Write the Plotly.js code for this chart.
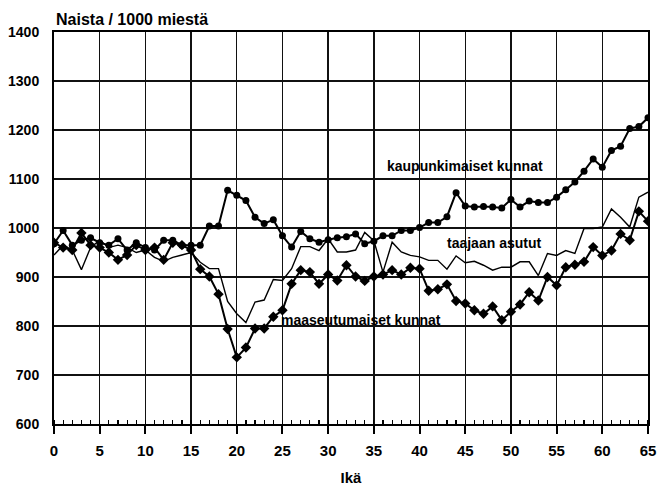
<!DOCTYPE html>
<html>
<head>
<meta charset="utf-8">
<script src="https://cdn.plot.ly/plotly-3.0.1.min.js"></script>
<style>
html,body{margin:0;padding:0;background:#fff;}
#chart{width:670px;height:493px;}
</style>
</head>
<body>
<div id="chart"></div>
<script>
const ages = [];
for (let a = 0; a <= 65; a++) ages.push(a);

const kaupunkimaiset = [968, 995, 965, 975, 980, 970, 965, 978, 955, 970,
  960, 955, 975, 975, 965, 965, 965, 1004, 1004, 1077,
  1067, 1056, 1022, 1009, 1017, 984, 961, 993, 978, 971,
  976, 980, 982, 988, 968, 973, 984, 984, 995, 995,
  1001, 1011, 1011, 1023, 1072, 1045, 1043, 1044, 1043, 1041,
  1058, 1043, 1055, 1052, 1052, 1063, 1078, 1094, 1116, 1141,
  1124, 1158, 1167, 1203, 1207, 1225];

const taajaan = [945, 965, 955, 915, 960, 975, 960, 965, 960, 950,
  955, 940, 932, 940, 945, 950, 930, 917, 917, 850,
  825, 807, 849, 853, 895, 893, 917, 962, 962, 954,
  978, 951, 951, 955, 991, 974, 910, 971, 951, 944,
  941, 934, 934, 916, 943, 929, 932, 924, 914, 920,
  920, 931, 931, 903, 948, 944, 954, 948, 999, 999,
  1002, 1039, 1022, 1002, 1063, 1073];

const maaseutumaiset = [970, 960, 955, 990, 965, 960, 950, 935, 945, 965,
  955, 960, 935, 970, 965, 955, 916, 901, 865, 794,
  736, 756, 795, 795, 819, 832, 886, 914, 910, 886,
  905, 893, 924, 901, 892, 901, 905, 914, 905, 919,
  917, 872, 875, 885, 851, 846, 832, 825, 840, 812,
  829, 844, 869, 852, 900, 883, 920, 925, 931, 961,
  944, 954, 988, 975, 1034, 1014];

const seriesLabels = ["kaupunkimaiset kunnat", "taajaan asutut", "maaseutumaiset kunnat"];
const titleText = "Naista / 1000 miestä";
const xTitle = "Ikä";

const FONT = '"Liberation Sans", Arial, sans-serif';

const traces = [
  {x: ages, y: taajaan, mode: 'lines', line: {color: '#000', width: 1.4}, name: seriesLabels[1]},
  {x: ages, y: maaseutumaiset, mode: 'lines+markers', line: {color: '#000', width: 2}, marker: {symbol: 'diamond', size: 8, color: '#000'}, name: seriesLabels[2]},
  {x: ages, y: kaupunkimaiset, mode: 'lines+markers', line: {color: '#000', width: 2}, marker: {symbol: 'circle', size: 7, color: '#000'}, name: seriesLabels[0]}
];

const layout = {
  width: 670, height: 493,
  margin: {l: 54, r: 22, t: 32, b: 69},
  paper_bgcolor: '#fff', plot_bgcolor: '#fff',
  showlegend: false,
  font: {family: FONT, size: 14, color: '#000', weight: 'bold'},
  xaxis: {
    range: [0, 65], dtick: 5, tick0: 0,
    showgrid: true, gridcolor: '#111', gridwidth: 1.3,
    showline: true, linecolor: '#000', linewidth: 2, mirror: true,
    ticks: 'outside', ticklen: 8, tickwidth: 2, tickcolor: '#000',
    minor: {dtick: 1, ticks: 'inside', ticklen: 4, tickwidth: 1.2, tickcolor: '#000', showgrid: false},
    zeroline: false, ticklabelstandoff: 4,
    tickfont: {family: FONT, size: 15, color: '#000', weight: 'bold'},
    title: {text: xTitle, font: {family: FONT, size: 15, color: '#000', weight: 'bold'}, standoff: 14}
  },
  yaxis: {
    range: [600, 1400], dtick: 100, tick0: 600,
    showgrid: true, gridcolor: '#111', gridwidth: 1.3,
    showline: true, linecolor: '#000', linewidth: 2, mirror: true,
    ticks: '', zeroline: false, ticklabelstandoff: 10,
    tickfont: {family: FONT, size: 14, color: '#000', weight: 'bold'}
  },
  annotations: [
    {xref: 'paper', yref: 'paper', x: 0, y: 1, xanchor: 'left', yanchor: 'bottom', yshift: 2, showarrow: false,
     text: titleText, font: {family: FONT, size: 16, color: '#000', weight: 'bold'}},
    {x: 45, y: 1127, showarrow: false, text: seriesLabels[0], font: {family: FONT, size: 14, color: '#000', weight: 'bold'}},
    {x: 48.2, y: 970, showarrow: false, text: seriesLabels[1], font: {family: FONT, size: 14, color: '#000', weight: 'bold'}},
    {x: 33.6, y: 812, showarrow: false, text: seriesLabels[2], font: {family: FONT, size: 14, color: '#000', weight: 'bold'}}
  ]
};

Plotly.newPlot('chart', traces, layout, {staticPlot: true, displayModeBar: false});
</script>
</body>
</html>
